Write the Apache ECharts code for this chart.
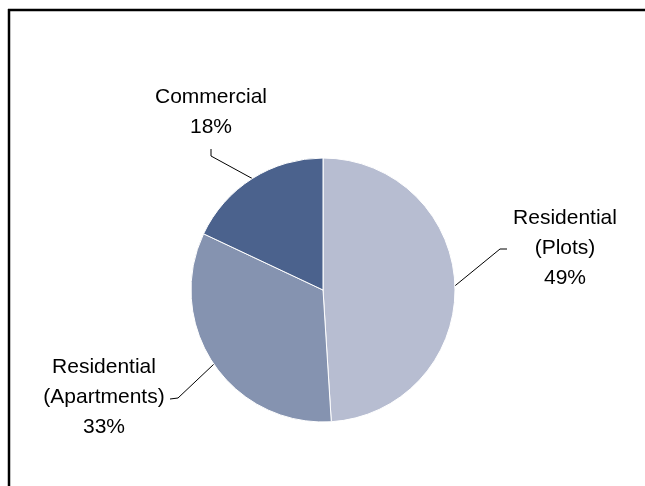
<!DOCTYPE html>
<html>
<head>
<meta charset="utf-8">
<script src="https://cdn.jsdelivr.net/npm/echarts@6/dist/echarts.min.js"></script>
<style>
html,body{margin:0;padding:0;background:#fff;}
#c{width:645px;height:486px;}
</style>
</head>
<body>
<div id="c"></div>
<script>
// Data
const categories = ['Residential\n(Plots)', 'Residential\n(Apartments)', 'Commercial'];
const values = [49, 33, 18];
const colors = ['#B7BDD1', '#8593B0', '#4B628D'];

// Label placement: label-block centre and leader elbow/end, as offsets from pie centre
const labelOffsets = [
  { dx: 242, dy: -42, elbow: [177, -41], end: [184, -41] },
  { dx: -219, dy: 107, elbow: [-145, 108], end: [-153, 109] },
  { dx: -112, dy: -178, elbow: [-112, -134], end: [-112, -141] }
];

const chart = echarts.init(document.getElementById('c'), null, { renderer: 'canvas' });
const W = chart.getWidth(), H = chart.getHeight();
const CX = 323, CY = 290, R = 132;

chart.setOption({
  animation: false,
  backgroundColor: '#fff',
  graphic: [
    { type: 'line', shape: { x1: 8, y1: 10, x2: W, y2: 10 }, style: { stroke: '#000', lineWidth: 2.5 } },
    { type: 'line', shape: { x1: 9, y1: 9, x2: 9, y2: H }, style: { stroke: '#000', lineWidth: 2.5 } }
  ],
  series: [{
    type: 'pie',
    center: [CX, CY],
    radius: [0, R],
    startAngle: 90,
    clockwise: true,
    percentPrecision: 0,
    data: categories.map((n, i) => ({ name: n, value: values[i], itemStyle: { color: colors[i] } })),
    itemStyle: { borderColor: '#fff', borderWidth: 1 },
    label: {
      show: true,
      position: 'outside',
      formatter: '{b}\n{d}%',
      fontFamily: 'Liberation Sans, Arial, sans-serif',
      fontSize: 21,
      lineHeight: 30,
      color: '#000',
      align: 'center'
    },
    labelLine: { show: true, length: 20, length2: 10, lineStyle: { color: '#000', width: 1 } },
    labelLayout: function (p) {
      const o = labelOffsets[p.dataIndex];
      const a = p.labelLinePoints ? p.labelLinePoints[0] : [CX, CY];
      const pts = [a, [CX + o.elbow[0], CY + o.elbow[1]], [CX + o.end[0], CY + o.end[1]]];
      return { x: CX + o.dx, y: CY + o.dy, align: 'center', verticalAlign: 'middle', labelLinePoints: pts };
    }
  }]
});
</script>
</body>
</html>
